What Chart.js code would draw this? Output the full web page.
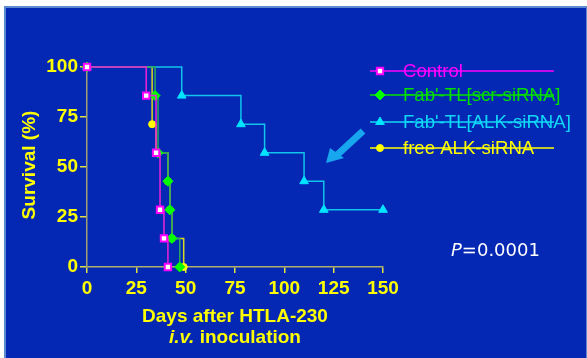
<!DOCTYPE html>
<html>
<head>
<meta charset="utf-8">
<script src="https://cdn.jsdelivr.net/npm/chart.js@4/dist/chart.umd.min.js"></script>
<style>
  html, body { margin: 0; padding: 0; background: #fff; }
  #wrap { position: relative; width: 587px; height: 358px; }
</style>
</head>
<body>
<div id="wrap"><canvas id="grafico" width="587" height="358"></canvas></div>
<script>
// Kaplan-Meier survival data (days, % survival)
const seriesNames = ['Control', "Fab'-TL[scr-siRNA]", "Fab'-TL[ALK-siRNA]", 'free ALK-siRNA'];

const controlDays = [0, 30, 35, 37, 39, 41];
const controlSurv = [100, 85.7, 57.1, 28.6, 14.3, 0];

const scrDays = [0, 34.5, 36, 41, 42, 43, 47];
const scrSurv = [100, 85.7, 57.1, 42.9, 28.6, 14.3, 0];

const alkDays = [0, 48, 78, 90, 110, 120, 150];
const alkSurv = [100, 85.7, 71.4, 57.1, 42.9, 28.6, 28.6];

const freeDays = [0, 33, 35, 41, 42, 43, 49];
const freeSurv = [100, 71.4, 57.1, 42.9, 28.6, 14.3, 0];

const xTicks = [0, 25, 50, 75, 100, 125, 150];
const yTicks = [0, 25, 50, 75, 100];

const pValue = '0.0001';

const AMARELO = '#FFFF00';
const FONTE = "'Liberation Sans', Arial, sans-serif";

function pontos(dias, valores) {
    return dias.map((d, i) => ({ x: d, y: valores[i] }));
}

// fundo azul com borda
const fundo = {
    id: 'fundo',
    beforeDraw(chart) {
        const c = chart.ctx;
        c.save();
        c.fillStyle = '#ffffff';
        c.fillRect(0, 0, chart.width, chart.height);
        c.fillStyle = '#5C8AD0';
        c.fillRect(4, 6, chart.width - 4, chart.height - 6);
        c.fillStyle = '#0428B4';
        c.fillRect(6, 8, chart.width - 7, chart.height - 8);
        c.restore();
    }
};

// titulos, legenda, seta e valor P
const extras = {
    id: 'extras',
    afterDraw(chart) {
        const c = chart.ctx;
        c.save();

        // titulo eixo y
        c.fillStyle = AMARELO;
        c.font = 'bold 19px ' + FONTE;
        c.textAlign = 'center';
        c.textBaseline = 'middle';
        c.translate(30, 165);
        c.rotate(-Math.PI / 2);
        c.fillText('Survival (%)', 0, 0);
        c.setTransform(1, 0, 0, 1, 0, 0);

        // titulo eixo x (duas linhas, i.v. em italico)
        c.textAlign = 'center';
        c.textBaseline = 'alphabetic';
        c.fillText('Days after HTLA-230', 235, 322);
        const parte1 = 'i.v.';
        const parte2 = ' inoculation';
        c.font = 'italic bold 19px ' + FONTE;
        const w1 = c.measureText(parte1).width;
        c.font = 'bold 19px ' + FONTE;
        const w2 = c.measureText(parte2).width;
        const x0 = 235 - (w1 + w2) / 2;
        c.textAlign = 'left';
        c.font = 'italic bold 19px ' + FONTE;
        c.fillText(parte1, x0, 343);
        c.font = 'bold 19px ' + FONTE;
        c.fillText(parte2, x0 + w1, 343);

        // legenda (texto riscado pela linha)
        const linhasY = [71, 95, 122, 148];
        const corLegenda = ['#FF00FF', '#00E000', '#10D8F8', '#FFFF00'];
        seriesNames.forEach((nome, i) => {
            const ds = chart.data.datasets[i];
            const y = linhasY[i];
            c.strokeStyle = corLegenda[i];
            c.lineWidth = 1.5;
            c.beginPath();
            c.moveTo(370, y);
            c.lineTo(554, y);
            c.stroke();
            c.font = '18.6px ' + FONTE;
            c.fillStyle = corLegenda[i];
            c.textAlign = 'left';
            c.textBaseline = 'middle';
            c.fillText(nome, 403, y + 1);
            c.fillStyle = ds.pointBackgroundColor;
            c.strokeStyle = ds.pointBorderColor;
            c.lineWidth = ds.pointBorderWidth;
            Chart.helpers.drawPoint(c, {
                pointStyle: ds.pointStyle,
                radius: ds.pointRadius,
                borderWidth: ds.pointBorderWidth
            }, 380, y);
        });

        // seta
        c.strokeStyle = '#18A6EE';
        c.fillStyle = '#18A6EE';
        c.lineWidth = 7;
        c.beginPath();
        c.moveTo(363, 131);
        c.lineTo(337, 155);
        c.stroke();
        c.beginPath();
        c.moveTo(326, 163);
        c.lineTo(330, 148);
        c.lineTo(344, 158);
        c.closePath();
        c.fill();

        // valor P
        c.fillStyle = '#ffffff';
        c.textAlign = 'left';
        c.textBaseline = 'alphabetic';
        c.font = "italic 18px 'DejaVu Sans', sans-serif";
        c.fillText('P', 451, 256);
        const wp = c.measureText('P').width;
        c.font = "18px 'DejaVu Sans', sans-serif";
        c.fillText('=' + pValue, 451 + wp, 256);

        c.restore();
    }
};

// o Chart.js desenha o primeiro dataset por cima
const ctx = document.getElementById('grafico').getContext('2d');
const grafico = new Chart(ctx, {
    type: 'line',
    data: {
        datasets: [
            {
                label: seriesNames[0],
                data: pontos(controlDays, controlSurv),
                borderColor: '#EE22D8',
                pointBackgroundColor: '#FFFFFF',
                pointBorderColor: '#FF00FF',
                pointStyle: 'rect',
                pointRadius: 4.5,
                pointBorderWidth: 2
            },
            {
                label: seriesNames[1],
                data: pontos(scrDays, scrSurv),
                borderColor: '#28A858',
                pointBackgroundColor: '#00FF00',
                pointBorderColor: '#00FF00',
                pointStyle: 'rectRot',
                pointRadius: 5,
                pointBorderWidth: 1
            },
            {
                label: seriesNames[2],
                data: pontos(alkDays, alkSurv),
                borderColor: '#10C4EC',
                pointBackgroundColor: '#00E4FF',
                pointBorderColor: '#00E4FF',
                pointStyle: 'triangle',
                pointRadius: 5,
                pointBorderWidth: 1
            },
            {
                label: seriesNames[3],
                data: pontos(freeDays, freeSurv),
                borderColor: '#D8D820',
                pointBackgroundColor: '#FFFF00',
                pointBorderColor: '#FFFF00',
                pointStyle: 'circle',
                pointRadius: 3.5,
                pointBorderWidth: 1
            }
        ].map(ds => Object.assign(ds, {
            stepped: 'before',
            borderWidth: 1.5,
            fill: false,
            clip: false,
            pointHoverRadius: ds.pointRadius
        }))
    },
    options: {
        responsive: false,
        animation: false,
        events: [],
        layout: { padding: { left: 0, top: 67, right: 204, bottom: 0 } },
        plugins: {
            legend: { display: false },
            tooltip: { enabled: false }
        },
        scales: {
            x: {
                type: 'linear',
                min: 0,
                max: 150,
                afterBuildTicks(scale) { scale.ticks = xTicks.map(v => ({ value: v })); },
                afterFit(scale) { scale.height = 91; },
                border: { color: '#B0B068', width: 1.5 },
                grid: { drawOnChartArea: false, tickLength: 6, tickColor: '#E0E040', lineWidth: 1.5 },
                ticks: {
                    color: AMARELO,
                    padding: 4,
                    maxRotation: 0,
                    font: { family: FONTE, size: 19, weight: 'bold' }
                }
            },
            y: {
                min: 0,
                max: 100,
                afterBuildTicks(scale) { scale.ticks = yTicks.map(v => ({ value: v })); },
                afterFit(scale) { scale.width = 87; },
                border: { color: '#A0A070', width: 1.5 },
                grid: { drawOnChartArea: false, tickLength: 7, tickColor: '#E0E040', lineWidth: 1.5 },
                ticks: {
                    color: AMARELO,
                    padding: 2,
                    font: { family: FONTE, size: 19, weight: 'bold' }
                }
            }
        }
    },
    plugins: [fundo, extras]
});
</script>
</body>
</html>
